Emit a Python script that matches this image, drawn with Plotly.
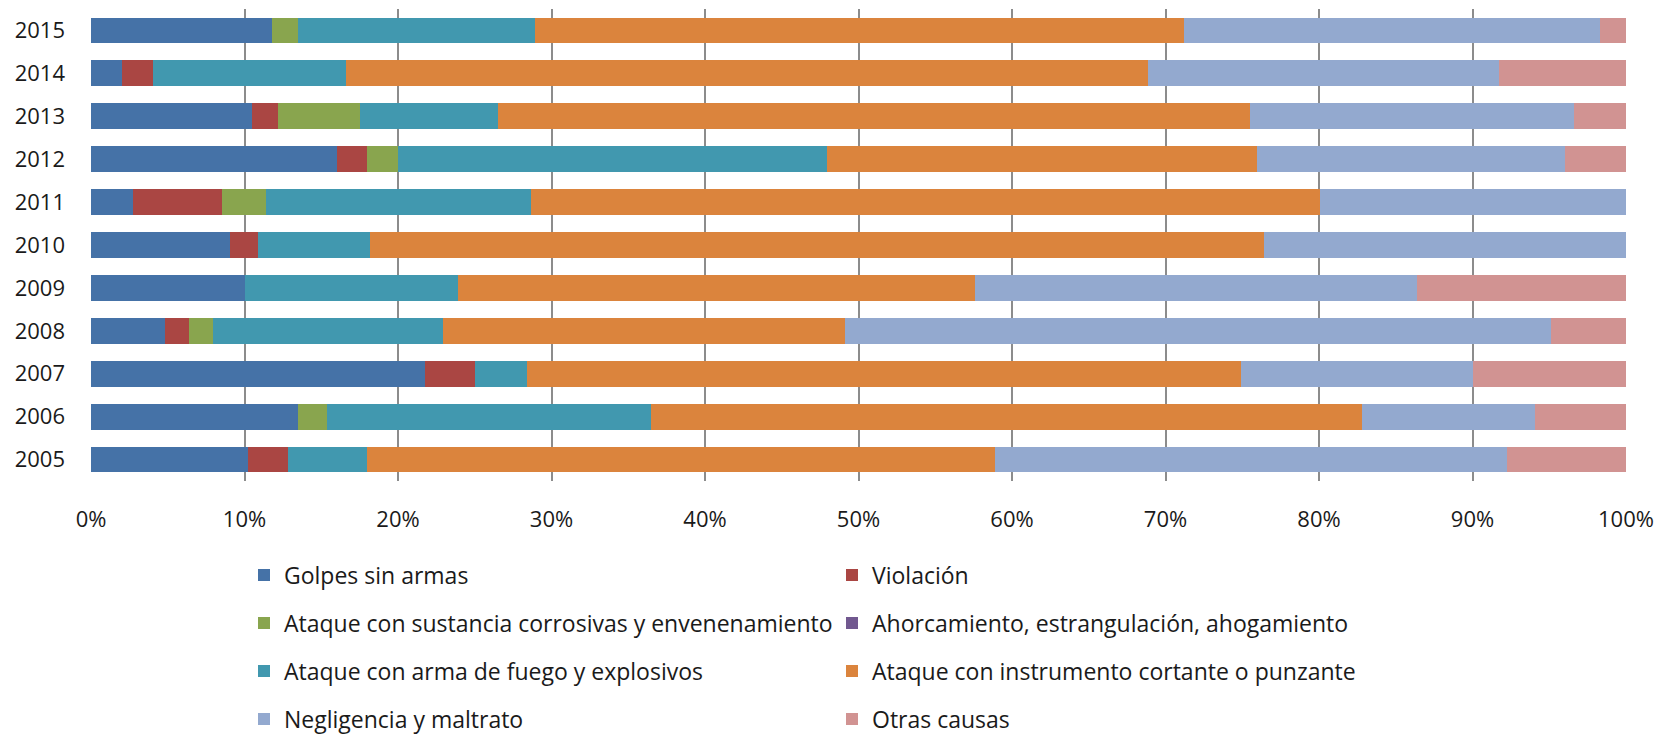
import plotly.graph_objects as go

years = ["2005", "2006", "2007", "2008", "2009", "2010", "2011", "2012", "2013", "2014", "2015"]

golpes = [10.23, 13.48, 21.74, 4.84, 10.06, 9.03, 2.74, 16.0, 10.5, 2.0, 11.8]
violacion = [2.59, 0, 3.26, 1.57, 0, 1.83, 5.78, 1.95, 1.7, 2.05, 0]
sustancia = [0, 1.87, 0, 1.57, 0, 0, 2.9, 2.08, 5.35, 0, 1.7]
ahorcamiento = [0, 0, 0, 0, 0, 0, 0, 0, 0, 0, 0]
fuego = [5.13, 21.15, 3.43, 14.95, 13.84, 7.34, 17.25, 27.93, 8.95, 12.55, 15.45]
cortante = [40.91, 46.27, 46.52, 26.17, 33.67, 58.2, 51.38, 28.03, 49.0, 52.26, 42.25]
negligencia = [33.39, 11.33, 15.1, 46.0, 28.83, 23.6, 19.95, 20.01, 21.1, 22.84, 27.1]
otras = [7.75, 5.9, 9.95, 4.9, 13.6, 0, 0, 4.0, 3.4, 8.3, 1.7]

x_ticks = [0, 10, 20, 30, 40, 50, 60, 70, 80, 90, 100]

series = [
    ("Golpes sin armas", golpes, "#4572A7", "legend"),
    ("Violación", violacion, "#AA4643", "legend"),
    ("Ataque con sustancia corrosivas y envenenamiento", sustancia, "#89A54E", "legend2"),
    ("Ahorcamiento, estrangulación, ahogamiento", ahorcamiento, "#71588F", "legend2"),
    ("Ataque con arma de fuego y explosivos", fuego, "#4198AF", "legend3"),
    ("Ataque con instrumento cortante o punzante", cortante, "#DB843D", "legend3"),
    ("Negligencia y maltrato", negligencia, "#93A9CF", "legend4"),
    ("Otras causas", otras, "#D19392", "legend4"),
]

FONT = "Open Sans"
TICK_SIZE = 22
LEG_SIZE = 23

fig = go.Figure()
for name, vals, color, leg in series:
    fig.add_trace(go.Bar(
        y=years, x=vals, name=name, orientation="h",
        marker=dict(color=color, line=dict(width=0)),
        legend=leg,
    ))

W, H = 1662, 734
L, R, T, B = 91, 36, 9, 253

def cx(x):
    return x / W

def cy(y):
    return 1 - y / H

leg_common = dict(
    orientation="h",
    traceorder="normal",
    entrywidth=543,
    entrywidthmode="pixels",
    font=dict(family=FONT, size=LEG_SIZE, color="#1a1a1a"),
    xref="container", yref="container",
    xanchor="left",
    yanchor="middle",
    x=cx(244),
    bgcolor="rgba(0,0,0,0)",
    itemclick=False,
)

fig.update_layout(
    width=W, height=H,
    margin=dict(l=L, r=R, t=T, b=B),
    barmode="stack",
    barnorm="percent",
    bargap=0.4,
    plot_bgcolor="white",
    paper_bgcolor="white",
    font=dict(family=FONT, size=TICK_SIZE, color="#1a1a1a"),
    legend=dict(**leg_common, y=cy(575)),
    legend2=dict(**leg_common, y=cy(623)),
    legend3=dict(**leg_common, y=cy(671)),
    legend4=dict(**leg_common, y=cy(719)),
    xaxis=dict(
        range=[0, 100],
        tickvals=x_ticks,
        ticktext=[f"{v}%" for v in x_ticks],
        showgrid=True, gridcolor="#8c8c8c", gridwidth=2,
        zeroline=False, showline=False, automargin=False,
        ticks="", ticklabelstandoff=23,
        tickfont=dict(family=FONT, size=TICK_SIZE, color="#1a1a1a"),
    ),
    yaxis=dict(
        showgrid=False, zeroline=False, showline=False, automargin=False,
        ticks="", ticklabelstandoff=25,
        tickfont=dict(family=FONT, size=TICK_SIZE, color="#1a1a1a"),
    ),
)

fig.write_html(
    "out.html",
    config={"displayModeBar": False},
    post_script="document.body.style.margin='0';document.body.style.overflow='hidden';",
)
